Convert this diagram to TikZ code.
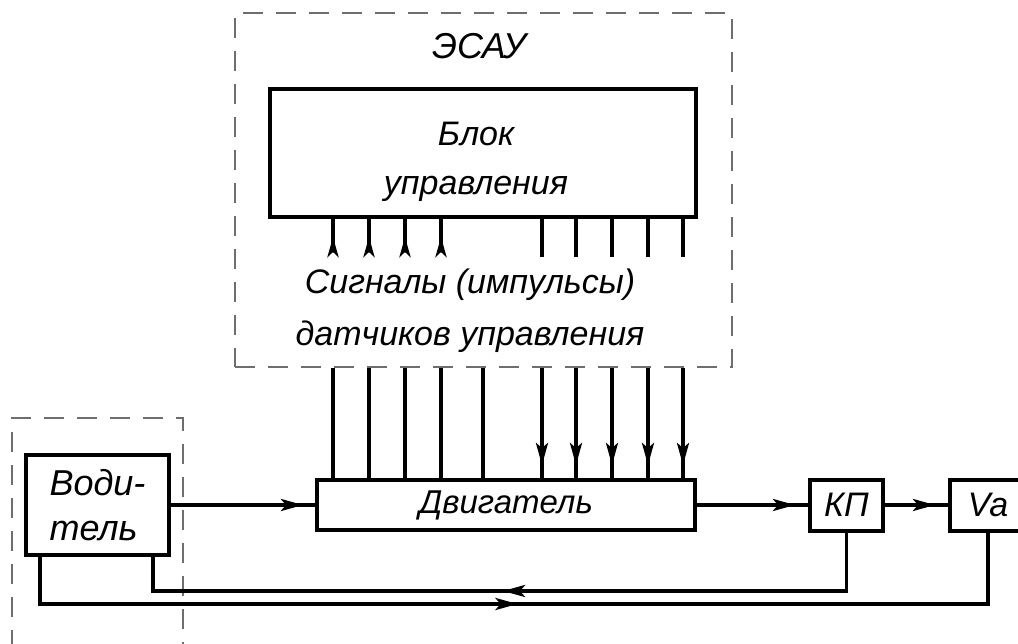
\documentclass[tikz,border=0pt]{standalone}
\usepackage{fontspec}
\setmainfont{Liberation Sans}
\usetikzlibrary{positioning,arrows.meta,decorations.markings}
\definecolor{schemink}{HTML}{000000}
\definecolor{schemdash}{HTML}{6E6E6E}

\begin{document}
\begin{tikzpicture}[
  x=1pt, y=-1pt,
  font=\fontsize{34}{48}\selectfont\itshape,
  >={Stealth[length=22pt, width=12pt, inset=5pt]},
  box/.style={draw=schemink, line width=4pt, align=center, inner sep=0pt},
  grp/.style={draw=schemdash, line width=1.5pt, dash pattern=on 20pt off 13pt},
  sig/.style={draw=schemink, line width=3.5pt},
  tipat/.style={postaction={decorate}, decoration={markings, mark=at position #1 with {\arrow{>}}}},
  revat/.style={postaction={decorate}, decoration={markings, mark=at position #1 with {\arrowreversed{>}}}},
  lbl/.style={align=center, inner sep=0pt}
]
\useasboundingbox (0,0) rectangle (1018,644);

% ESAU group
\node[grp, minimum width=497, minimum height=354, inner sep=0pt] (esau) at (483.5,190) {};
\node[lbl, font=\fontsize{36}{40}\selectfont\itshape] (esaulbl) at (479,46) {ЭСАУ};
\node[box, minimum width=426, minimum height=128] (blok) at (483,153) {};
\node[lbl, font=\fontsize{34}{49}\selectfont\itshape] (bloklbl) at (476,162) {Блок\\управления};
\node[lbl, font=\fontsize{34}{52}\selectfont\itshape] (siglbl) at (470,311) {Сигналы (импульсы)\\датчиков управления};
\coordinate (sigend) at (0,257);

% driver group
\draw[grp] (12,650) |- (183,418) -- (183,650);
\node[box, minimum width=143, minimum height=100, align=left,
  font=\fontsize{36}{45}\selectfont\itshape] (driver) at (97.5,505) {Води-\\тель};

% chain
\node[box, minimum width=378, minimum height=50, font=\fontsize{33}{40}\selectfont\itshape] (engine) at (506,505) {Двигатель};
\node[box, minimum width=73, minimum height=51] (kp) at (846.5,505) {КП};
\node[box, minimum width=76, minimum height=51] (va) at (988,505) {Va};

% sensor signals
\foreach \x in {333,369,405,441}
  \draw[sig, -{Stealth[reversed, length=20pt, width=11pt, inset=5pt]}] (\x,0 |- blok.south) -- (\x,0 |- sigend);
\foreach \x in {542,576,612,648,683}
  \draw[sig] (\x,0 |- blok.south) -- (\x,0 |- sigend);
\foreach \x in {333,369,405,441,483}
  \draw[sig] (\x,0 |- esau.south) -- (\x,0 |- engine.north);
\foreach \x in {542,576,612,648,683}
  \draw[sig, tipat=-13pt] (\x,0 |- esau.south) -- (\x,0 |- engine.north);

% main line
\draw[sig, tipat=-12pt] (driver) -- (engine);
\draw[sig, tipat=-13pt] (engine) -- (kp);
\draw[sig, tipat=-13pt] (kp) -- (va);

% feedback
\coordinate (fbkp) at (153,591);
\coordinate (fbva) at (40,604);
\draw[sig, tipat=402pt] (kp.south) |- (fbkp) -- (fbkp |- driver.south);
\draw[sig, revat=542pt] (va.south) |- (fbva) -- (fbva |- driver.south);
\end{tikzpicture}
\end{document}
